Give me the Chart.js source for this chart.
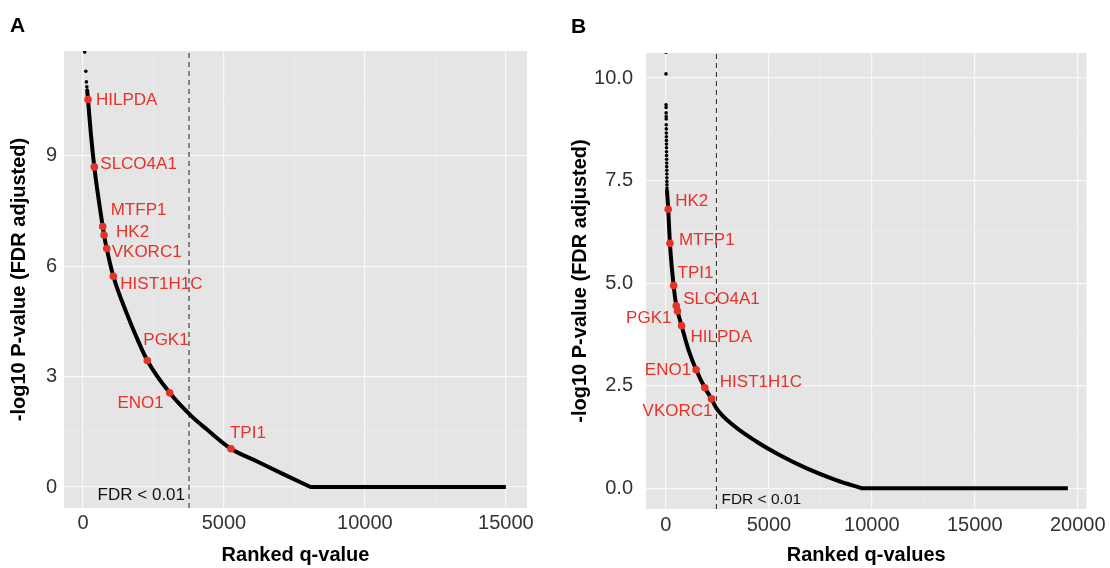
<!DOCTYPE html>
<html>
<head>
<meta charset="utf-8">
<script src="https://cdn.jsdelivr.net/npm/chart.js@4"></script>
<style>
body { margin: 0; background: #fff; width: 1110px; height: 568px; overflow: hidden; font-family: "Liberation Sans", Arial, sans-serif; }
.panel { position: absolute; top: 0; width: 555px; height: 568px; }
.tag { position: absolute; font-weight: bold; font-size: 21px; line-height: 1; color: #000; }
</style>
</head>
<body>
<div class="panel" style="left:0"><canvas id="chartA" width="555" height="568"></canvas></div>
<div class="panel" style="left:555px"><canvas id="chartB" width="555" height="568"></canvas></div>
<div class="tag" style="left:10px;top:14px">A</div>
<div class="tag" style="left:571px;top:15px">B</div>
<script>
// ---- panel A data ----
var genesA = ['HILPDA', 'SLCO4A1', 'MTFP1', 'HK2', 'VKORC1', 'HIST1H1C', 'PGK1', 'ENO1', 'TPI1'];
var geneRankA = [177, 400, 698, 745, 840, 1075, 2280, 3074, 5248];
var geneScoreA = [10.53, 8.7, 7.08, 6.85, 6.48, 5.73, 3.44, 2.56, 1.04];
var topRankA = [60, 100, 120, 135, 145];
var topScoreA = [11.82, 11.3, 11.01, 10.88, 10.79];
var curveRankA = [150, 177, 276, 400, 557, 698, 745, 840, 1075, 1550, 1950, 2280, 3074, 3855, 4387, 5248, 6160, 7103, 8074];
var curveScoreA = [10.76, 10.53, 9.62, 8.7, 7.8, 7.08, 6.85, 6.48, 5.73, 4.72, 3.98, 3.44, 2.56, 1.92, 1.57, 1.04, 0.7, 0.35, 0];
var tailRankA = [8074, 15000];
var tailScoreA = [0, 0];
var fdrCutA = 3760;
var xRangeA = [-675, 15750];
var yRangeA = [-0.57, 11.85];
var xTicksA = [0, 5000, 10000, 15000];
var yTicksA = [0, 3, 6, 9];

// ---- panel B data ----
var genesB = ['HK2', 'MTFP1', 'TPI1', 'SLCO4A1', 'PGK1', 'HILPDA', 'ENO1', 'HIST1H1C', 'VKORC1'];
var geneRankB = [111, 194, 373, 500, 560, 760, 1467, 1888, 2212];
var geneScoreB = [6.8, 5.97, 4.94, 4.45, 4.32, 3.96, 2.89, 2.45, 2.18];
var topRankB = [2, 4, 6, 8, 10, 12, 14, 16, 18, 20, 22, 24, 26, 28, 30, 32, 34, 36, 38, 40, 42, 44, 46, 48, 50];
var topScoreB = [10.63, 10.1, 9.35, 9.28, 9.15, 9.06, 9.0, 8.86, 8.76, 8.66, 8.57, 8.48, 8.39, 8.3, 8.2, 8.11, 8.02, 7.93, 7.84, 7.75, 7.66, 7.57, 7.48, 7.4, 7.32];
var curveRankB = [52, 111, 194, 373, 500, 560, 760, 1100, 1467, 1888, 2212, 2454, 3257, 4390, 5518, 6810, 8262, 9521];
var curveScoreB = [7.25, 6.8, 5.97, 4.94, 4.45, 4.32, 3.96, 3.37, 2.89, 2.45, 2.18, 1.95, 1.54, 1.14, 0.81, 0.49, 0.2, 0];
var tailRankB = [9521, 19520];
var tailScoreB = [0, 0];
var fdrCutB = 2454;
var xRangeB = [-968, 20426];
var yRangeB = [-0.505, 10.61];
var xTicksB = [0, 5000, 10000, 15000, 20000];
var yTicksB = [0, 2.5, 5, 7.5, 10];

// label offsets in px from the point: [dx, dy, align]
var labelPosA = {
  HILPDA: [8, 1, 'left'], SLCO4A1: [6, -3, 'left'], MTFP1: [8, -16, 'left'],
  HK2: [12, -3, 'left'], VKORC1: [5, 4, 'left'], HIST1H1C: [7, 8, 'left'],
  PGK1: [-4, -20, 'left'], ENO1: [-6, 10, 'right'], TPI1: [-1, -15, 'left']
};
var labelPosB = {
  HK2: [7, -8, 'left'], MTFP1: [9, -3, 'left'], TPI1: [4, -12, 'left'],
  SLCO4A1: [7, -6, 'left'], PGK1: [-6, 7, 'right'], HILPDA: [9, 11, 'left'],
  ENO1: [-5, 1, 'right'], HIST1H1C: [15, -5, 'left'], VKORC1: [1, 12, 'right']
};

var RED = '#e5332a';
var FONT = '"Liberation Sans", Arial, sans-serif';

function pts(xs, ys) {
  return xs.map(function (x, i) { return { x: x, y: ys[i] }; });
}

// major ticks plus the half-way minor lines, inside the axis range
function gridValues(major, lo, hi) {
  var step = (major[1] - major[0]) / 2;
  var v = major[0] - step * Math.floor((major[0] - lo) / step);
  var out = [];
  for (; v <= hi + 1e-9; v += step) out.push(Math.round(v * 1000) / 1000);
  return out.map(function (x) { return { value: x }; });
}

var panelBg = {
  id: 'panelBg',
  beforeDraw: function (chart) {
    var a = chart.chartArea, ctx = chart.ctx;
    ctx.save();
    ctx.fillStyle = '#e5e5e5';
    ctx.fillRect(a.left, a.top, a.right - a.left, a.bottom - a.top);
    ctx.restore();
  }
};

var geneText = {
  id: 'geneText',
  afterDatasetsDraw: function (chart, args, o) {
    var ctx = chart.ctx, sx = chart.scales.x, sy = chart.scales.y;
    ctx.save();
    ctx.font = '17px ' + FONT;
    ctx.fillStyle = RED;
    ctx.textBaseline = 'middle';
    o.names.forEach(function (n, i) {
      var p = o.pos[n];
      ctx.textAlign = p[2];
      ctx.fillText(n, sx.getPixelForValue(o.xs[i]) + p[0], sy.getPixelForValue(o.ys[i]) + p[1]);
    });
    // threshold note
    ctx.fillStyle = '#111';
    ctx.font = o.fdrSize + 'px ' + FONT;
    ctx.textAlign = o.fdrAlign;
    ctx.fillText('FDR < 0.01', sx.getPixelForValue(o.cut) + o.fdrDx, chart.chartArea.bottom + o.fdrDy);
    ctx.restore();
  }
};

function makeChart(id, d) {
  var isMajorX = function (v) { return d.xTicks.indexOf(v) >= 0; };
  var isMajorY = function (v) { return d.yTicks.indexOf(v) >= 0; };
  new Chart(document.getElementById(id), {
    type: 'scatter',
    data: {
      datasets: [
        { data: pts(d.geneX, d.geneY), pointRadius: 3.8, pointBackgroundColor: RED, pointBorderWidth: 0, order: 0 },
        { type: 'line', data: pts(d.curveX, d.curveY), borderColor: '#000', borderWidth: 4, pointRadius: 0,
          cubicInterpolationMode: 'monotone', borderCapStyle: 'round', order: 2 },
        { type: 'line', data: pts(d.tailX, d.tailY), borderColor: '#000', borderWidth: 4, pointRadius: 0,
          borderCapStyle: 'butt', order: 2 },
        { data: pts(d.topX, d.topY), pointRadius: 1.8, pointBackgroundColor: '#000', pointBorderWidth: 0, order: 1 },
        { type: 'line', data: pts([d.cut, d.cut], d.yRange), borderColor: '#333', borderWidth: 1.1,
          borderDash: [5, 4], pointRadius: 0, order: 3 }
      ]
    },
    options: {
      responsive: false,
      animation: false,
      layout: { padding: { left: 0, top: d.padTop, right: d.padRight, bottom: 0 } },
      plugins: {
        legend: { display: false },
        tooltip: { enabled: false },
        geneText: { names: d.names, xs: d.geneX, ys: d.geneY, pos: d.labelPos, cut: d.cut,
          fdrSize: d.fdrSize, fdrAlign: d.fdrAlign, fdrDx: d.fdrDx, fdrDy: d.fdrDy }
      },
      scales: {
        x: {
          type: 'linear', min: d.xRange[0], max: d.xRange[1],
          afterBuildTicks: function (s) { s.ticks = gridValues(d.xTicks, d.xRange[0], d.xRange[1]); },
          afterFit: function (s) { s.height = d.xAxisH; },
          border: { display: false },
          grid: {
            drawTicks: false,
            color: function (c) { return isMajorX(c.tick.value) ? '#f8f8f8' : '#ececec'; },
            lineWidth: function (c) { return isMajorX(c.tick.value) ? 1.2 : 0.7; }
          },
          ticks: {
            autoSkip: false, maxRotation: 0,
            padding: d.xTickPad, color: '#333', font: { size: 20, family: FONT },
            callback: function (v) { return isMajorX(v) ? String(v) : ''; }
          },
          title: { display: true, text: d.xTitle, color: '#000', padding: { top: 0, bottom: 1 },
            font: { size: 20, weight: 'bold', family: FONT } }
        },
        y: {
          type: 'linear', min: d.yRange[0], max: d.yRange[1],
          afterBuildTicks: function (s) { s.ticks = gridValues(d.yTicks, d.yRange[0], d.yRange[1]); },
          afterFit: function (s) { s.width = d.yAxisW; },
          border: { display: false },
          grid: {
            drawTicks: false,
            color: function (c) { return isMajorY(c.tick.value) ? '#f8f8f8' : '#ececec'; },
            lineWidth: function (c) { return isMajorY(c.tick.value) ? 1.2 : 0.7; }
          },
          ticks: {
            autoSkip: false,
            padding: d.yTickPad, color: '#333', font: { size: 20, family: FONT },
            callback: function (v) { return isMajorY(v) ? d.yFmt(v) : ''; }
          },
          title: { display: true, text: '-log10 P-value (FDR adjusted)', color: '#000',
            padding: { top: d.yTitlePad, bottom: 0 }, font: { size: 20, weight: 'bold', family: FONT } }
        }
      }
    },
    plugins: [panelBg, geneText]
  });
}

makeChart('chartA', {
  names: genesA, geneX: geneRankA, geneY: geneScoreA, labelPos: labelPosA,
  topX: topRankA, topY: topScoreA, curveX: curveRankA, curveY: curveScoreA,
  tailX: tailRankA, tailY: tailScoreA, cut: fdrCutA,
  xRange: xRangeA, yRange: yRangeA, xTicks: xTicksA, yTicks: yTicksA,
  yFmt: function (v) { return String(v); },
  xTitle: 'Ranked q-value', padTop: 51, padRight: 28, xAxisH: 60, yAxisW: 64,
  xTickPad: 3, yTickPad: 7, yTitlePad: 7.5,
  fdrSize: 17, fdrAlign: 'right', fdrDx: -4, fdrDy: -13
});

makeChart('chartB', {
  names: genesB, geneX: geneRankB, geneY: geneScoreB, labelPos: labelPosB,
  topX: topRankB, topY: topScoreB, curveX: curveRankB, curveY: curveScoreB,
  tailX: tailRankB, tailY: tailScoreB, cut: fdrCutB,
  xRange: xRangeB, yRange: yRangeB, xTicks: xTicksB, yTicks: yTicksB,
  yFmt: function (v) { return v.toFixed(1); },
  xTitle: 'Ranked q-values', padTop: 53, padRight: 22, xAxisH: 59, yAxisW: 91,
  xTickPad: 4, yTickPad: 13, yTitlePad: 13,
  fdrSize: 15.5, fdrAlign: 'left', fdrDx: 5, fdrDy: -9
});
</script>
</body>
</html>
